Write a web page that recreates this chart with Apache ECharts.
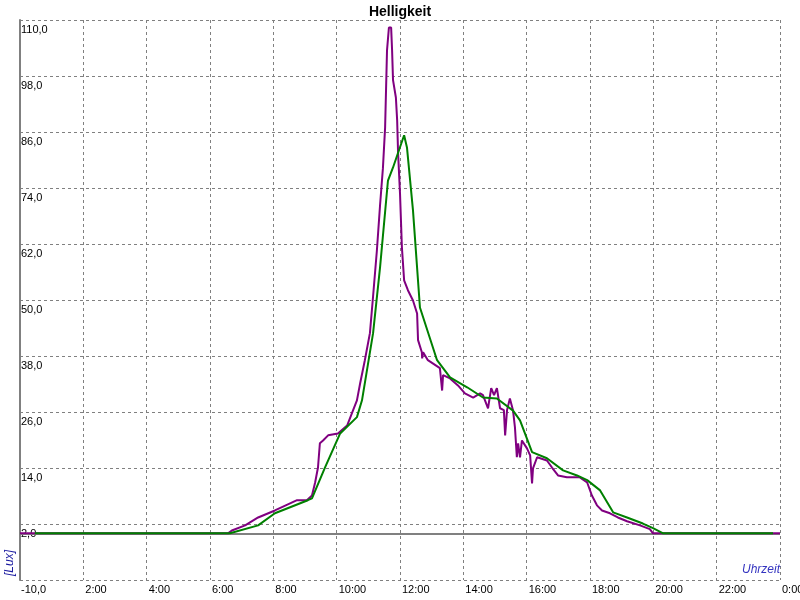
<!DOCTYPE html>
<html>
<head>
<meta charset="utf-8">
<script src="https://cdn.jsdelivr.net/npm/echarts@6/dist/echarts.min.js"></script>
<style>html,body{margin:0;padding:0;background:#fff}#c{width:800px;height:600px}</style>
</head>
<body>
<div id="c"></div>
<script>
// Hour of day (x) and brightness in Lux (y)
const purpleTime = [0, 6.57, 6.69, 7.11, 7.52, 8.05, 8.75, 9.06, 9.22, 9.32, 9.41, 9.47, 9.57, 9.73, 10.04, 10.33, 10.48, 10.64, 10.74, 10.89, 11.05, 11.15, 11.27, 11.37, 11.46, 11.53, 11.59, 11.65, 11.72, 11.75, 11.78, 11.87, 11.91, 11.94, 12.00, 12.06, 12.13, 12.25, 12.41, 12.54, 12.57, 12.69, 12.70, 12.73, 12.88, 13.26, 13.33, 13.36, 13.58, 13.83, 14.05, 14.31, 14.53, 14.62, 14.78, 14.88, 14.97, 15.06, 15.16, 15.28, 15.32, 15.38, 15.47, 15.57, 15.63, 15.69, 15.73, 15.79, 15.85, 16.01, 16.11, 16.17, 16.20, 16.33, 16.64, 16.80, 16.99, 17.27, 17.68, 17.91, 18.06, 18.22, 18.38, 18.63, 18.88, 19.17, 19.58, 19.89, 19.99, 24];
const purpleLux = [0, 0, 0.6, 1.7, 3.4, 4.9, 7.1, 7.1, 8.1, 10.9, 14.1, 19.3, 19.9, 21.0, 21.4, 23.1, 25.7, 28.5, 32.1, 37.1, 42.9, 50.8, 60.6, 70.3, 78.2, 87.0, 103.5, 108.4, 108.4, 103.5, 97.1, 93.4, 88.5, 81.4, 72.9, 61.3, 54.2, 52.1, 49.9, 47.1, 41.4, 38.8, 37.5, 38.8, 37.1, 35.4, 30.6, 33.9, 33.2, 31.7, 30.0, 29.1, 30.0, 29.6, 26.8, 31.1, 29.6, 31.1, 26.8, 26.4, 21.0, 26.4, 28.9, 26.3, 22.7, 16.3, 19.3, 16.3, 19.9, 18.2, 16.7, 10.7, 13.9, 16.3, 15.6, 14.1, 12.4, 12.0, 12.0, 10.9, 8.1, 6.0, 4.9, 4.3, 3.4, 2.6, 1.7, 0.9, 0, 0];

const greenTime = [0.47, 6.63, 7.52, 8.05, 9.09, 9.22, 9.63, 10.11, 10.64, 10.80, 11.15, 11.37, 11.62, 11.78, 12.13, 12.22, 12.41, 12.63, 12.73, 13.17, 13.58, 14.12, 14.62, 15.06, 15.57, 15.79, 16.17, 16.64, 17.15, 17.59, 17.91, 18.32, 18.73, 19.17, 19.67, 19.99, 20.31, 23.78];
const greenLux = [0, 0, 1.7, 4.3, 7.1, 7.5, 14.1, 21.4, 24.9, 28.5, 42.9, 57.0, 75.6, 78.4, 85.3, 82.7, 69.2, 48.4, 46.3, 37.1, 33.4, 31.3, 29.1, 28.9, 26.3, 24.2, 17.4, 16.1, 13.5, 12.4, 11.4, 9.2, 4.5, 3.4, 2.1, 1.1, 0, 0];

const xTickLabels = ['', '2:00', '4:00', '6:00', '8:00', '10:00', '12:00', '14:00', '16:00', '18:00', '20:00', '22:00', '0:00'];
const yTickLabels = ['-10,0', '2,0', '14,0', '26,0', '38,0', '50,0', '62,0', '74,0', '86,0', '98,0', '110,0'];

const FONT = 'Liberation Sans, Arial, sans-serif';
const chart = echarts.init(document.getElementById('c'), null, {renderer: 'canvas'});
const gridDash = {color: '#808080', width: 1, type: [3, 3]};

chart.setOption({
  animation: false,
  backgroundColor: '#ffffff',
  title: {
    text: 'Helligkeit', left: 'center', top: 5, padding: 0,
    textStyle: {fontFamily: FONT, fontSize: 14, fontWeight: 'bold', color: '#000'}
  },
  grid: {left: 20, right: 20, top: 20, bottom: 20, containLabel: false, outerBoundsMode: 'none'},
  xAxis: {
    type: 'value', min: 0, max: 24, interval: 2,
    axisLine: {show: false}, axisTick: {show: false},
    splitLine: {show: true, lineStyle: gridDash},
    axisLabel: {
      margin: 4, align: 'left', padding: [0, 0, 0, 2],
      fontFamily: FONT, fontSize: 11, color: '#000',
      formatter: v => xTickLabels[Math.round(v / 2)]
    }
  },
  yAxis: [
    {type: 'value', min: -10, max: 110, show: false, splitLine: {show: false}},
    {
      type: 'value', min: 0, max: 120, interval: 12, position: 'left',
      axisLine: {show: true, lineStyle: {color: '#808080', width: 2}},
      axisTick: {show: false},
      splitLine: {show: true, lineStyle: gridDash},
      axisLabel: {
        inside: true, margin: 1, align: 'left', verticalAlign: 'top', padding: [4, 0, 0, 0],
        fontFamily: FONT, fontSize: 11, color: '#000',
        formatter: v => yTickLabels[Math.round(v / 12)]
      }
    }
  ],
  graphic: [
    {type: 'text', x: 10, y: 563, rotation: Math.PI / 2, z: 10,
     style: {text: '[Lux]', fontFamily: FONT, fontSize: 12, fontStyle: 'italic', fill: '#1c1ca0', align: 'center', verticalAlign: 'middle'}},
    {type: 'text', x: 780, y: 570, z: 10,
     style: {text: 'Uhrzeit', fontFamily: FONT, fontSize: 12, fontStyle: 'italic', fill: '#3434c0', align: 'right', verticalAlign: 'middle'}}
  ],
  series: [
    {
      name: 'Helligkeit', type: 'line', yAxisIndex: 0, z: 2,
      showSymbol: false, symbol: 'none',
      lineStyle: {color: '#800080', width: 2}, itemStyle: {color: '#800080'},
      data: purpleTime.map((t, i) => [t, purpleLux[i]]),
      markLine: {
        silent: true, symbol: 'none', z: 1, label: {show: false},
        lineStyle: {color: '#808080', width: 2, type: 'solid'},
        data: [{yAxis: 0}]
      }
    },
    {
      name: 'Mittel', type: 'line', yAxisIndex: 0, z: 3,
      showSymbol: false, symbol: 'none',
      lineStyle: {color: '#008000', width: 2}, itemStyle: {color: '#008000'},
      data: greenTime.map((t, i) => [t, greenLux[i]])
    }
  ]
});
</script>
</body>
</html>
